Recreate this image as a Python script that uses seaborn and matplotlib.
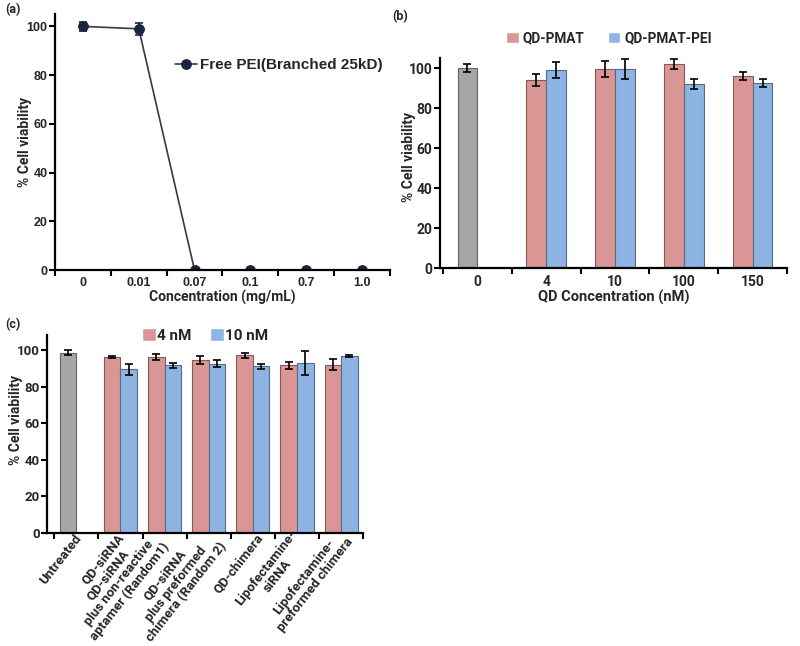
import numpy as np
import pandas as pd
import matplotlib
matplotlib.use("Agg")
import matplotlib.pyplot as plt
import matplotlib.colors as mcolors
from matplotlib.container import BarContainer
from matplotlib.transforms import ScaledTranslation
import seaborn as sns

# Panel (a): free PEI toxicity
conc_a = ["0", "0.01", "0.07", "0.1", "0.7", "1.0"]
via_a = [100, 99, 0, 0, 0, 0]
err_a = [2, 2.5, 0, 0, 0, 0]

# Panel (b): QD formulations
qd_conc = ["0", "4", "10", "100", "150"]
control_b = 100
control_b_err = 2
pmat = [94, 99.5, 102, 96]
pmat_err = [3, 4, 2.5, 2]
pmat_pei = [99, 99.5, 92, 92.5]
pmat_pei_err = [4, 5, 2.5, 2]

# Panel (c): siRNA / chimera complexes
groups_c = ["Untreated", "QD-siRNA",
            "QD-siRNA\nplus non-reactive\naptamer (Random1)",
            "QD-siRNA\nplus preformed\nchimera (Random 2)",
            "QD-chimera", "Lipofectamine-\nsiRNA",
            "Lipofectamine-\npreformed chimera"]
control_c = 98.5
control_c_err = 1.5
nm4 = [96, 96, 94.5, 97, 91.5, 92]
nm4_err = [0.5, 1.5, 2, 1.5, 2, 3]
nm10 = [89.5, 91.5, 92.5, 91, 93, 96.5]
nm10_err = [3, 1.5, 2, 1.5, 6.5, 0.5]

PINK = "#d99694"
BLUE = "#8db4e2"
GRAY = "#a6a6a6"
NARROW = ["Roboto", "DejaVu Sans"]
WIDE = ["Liberation Sans", "DejaVu Sans"]

# nudges (px) for the rotated labels in (c), to keep the stacked lines apart
label_nudge_c = [3, 1, -9, 5, 8, 3, 4]

sns.set_style("ticks")
plt.rcParams["font.family"] = NARROW
plt.rcParams["font.weight"] = "bold"
plt.rcParams["axes.labelweight"] = "bold"


def darker(c, f=0.6):
    r, g, b = mcolors.to_rgb(c)
    return (r * f, g * f, b * f)


def style_axis(ax, n, lw=1.6):
    sns.despine(ax=ax)
    for s in ["left", "bottom"]:
        ax.spines[s].set_linewidth(lw)
        ax.spines[s].set_color("black")
    ax.set_xticks(np.arange(-0.5, n, 1), minor=True)
    ax.tick_params(axis="x", which="major", length=0, pad=5)
    ax.tick_params(axis="x", which="minor", length=4, width=1.5, color="black")
    ax.tick_params(axis="y", length=4, width=1.5, color="black", pad=1.5)
    for lab in ax.get_yticklabels() + ax.get_xticklabels():
        lab.set_fontweight("bold")


def add_errors(ax, err_table, control_pos, control_err):
    # err_table[side][cat_index - 1]; side 0 = first hue, 1 = second hue
    bars = [b for c in ax.containers if isinstance(c, BarContainer) for b in c]
    for bar in bars:
        h = bar.get_height()
        if np.isnan(h):
            continue
        cx = bar.get_x() + bar.get_width() / 2
        idx = int(round(cx))
        side = 0 if cx < idx else 1
        if idx == control_pos:
            e = control_err
            bar.set_facecolor(GRAY)
        else:
            e = err_table[side][idx - 1]
        bar.set_edgecolor(darker(bar.get_facecolor()))
        bar.set_linewidth(0.8)
        ax.errorbar(cx, h, yerr=e, fmt="none", ecolor="black",
                    elinewidth=1.2, capsize=3, capthick=1.2, zorder=5)


fig = plt.figure(figsize=(8, 6.46), dpi=100)

# ---- (a)
ax_a = fig.add_axes([0.069, 0.582, 0.418, 0.396])
df_a = pd.DataFrame({"Concentration": conc_a, "Viability": via_a})
sns.lineplot(data=df_a, x="Concentration", y="Viability", sort=False,
             marker="o", color="#3a3a3a", lw=1.2, markersize=7,
             markerfacecolor="#1c2540", markeredgecolor="#1c2540",
             label="Free PEI(Branched 25kD)", ax=ax_a)
ax_a.errorbar(conc_a, via_a, yerr=err_a, fmt="none", ecolor="#1c2540",
              elinewidth=1.2, capsize=3, capthick=1.2)
ax_a.set_xlim(-0.5, 5.5)
ax_a.set_ylim(0, 105)
ax_a.set_yticks([0, 20, 40, 60, 80, 100])
ax_a.set_xlabel("Concentration (mg/mL)", fontsize=10, labelpad=1)
ax_a.set_ylabel("% Cell viability", fontsize=10)
ax_a.yaxis.set_label_coords(-0.069, 0.5)
style_axis(ax_a, 6)
ax_a.tick_params(labelsize=9)
for lab in ax_a.get_yticklabels() + ax_a.get_xticklabels():
    lab.set_fontfamily(WIDE)
ax_a.legend(loc="center right", bbox_to_anchor=(1.02, 0.80), frameon=False,
            handlelength=1.4, handletextpad=0.2,
            prop={"family": WIDE, "weight": "bold", "size": 11})

# ---- (b)
ax_b = fig.add_axes([0.55, 0.585, 0.434, 0.325])
rows = [("0", "QD-PMAT", control_b)]
for c, v1, v2 in zip(qd_conc[1:], pmat, pmat_pei):
    rows.append((c, "QD-PMAT", v1))
    rows.append((c, "QD-PMAT-PEI", v2))
df_b = pd.DataFrame(rows, columns=["Concentration", "Formulation", "Viability"])
sns.barplot(data=df_b, x="Concentration", y="Viability", hue="Formulation",
            order=qd_conc, hue_order=["QD-PMAT", "QD-PMAT-PEI"],
            palette=[PINK, BLUE], saturation=1, width=0.57,
            errorbar=None, ax=ax_b)
add_errors(ax_b, [pmat_err, pmat_pei_err], 0, control_b_err)
ax_b.set_xlim(-0.54, 4.4)
ax_b.set_ylim(0, 105)
ax_b.set_yticks([0, 20, 40, 60, 80, 100])
ax_b.set_xlabel("QD Concentration (nM)", fontsize=10.5, labelpad=1)
ax_b.set_ylabel("% Cell viability", fontsize=10)
ax_b.yaxis.set_label_coords(-0.069, 0.53)
style_axis(ax_b, 5)
ax_b.tick_params(labelsize=10)
ax_b.legend(ncol=2, loc="center", bbox_to_anchor=(0.487, 1.095),
            frameon=False, handlelength=0.9, handleheight=0.9,
            handletextpad=0.3, columnspacing=1.7,
            prop={"weight": "bold", "size": 9.8})

# ---- (c)
ax_c = fig.add_axes([0.059, 0.175, 0.395, 0.306])
rows = [(groups_c[0], "4 nM", control_c)]
for g, v1, v2 in zip(groups_c[1:], nm4, nm10):
    rows.append((g, "4 nM", v1))
    rows.append((g, "10 nM", v2))
df_c = pd.DataFrame(rows, columns=["Treatment", "Dose", "Viability"])
sns.barplot(data=df_c, x="Treatment", y="Viability", hue="Dose",
            order=groups_c, hue_order=["4 nM", "10 nM"],
            palette=[PINK, BLUE], saturation=1, width=0.75,
            errorbar=None, ax=ax_c)
add_errors(ax_c, [nm4_err, nm10_err], 0, control_c_err)
ax_c.set_xlim(-0.66, 6.5)
ax_c.set_ylim(0, 108)
ax_c.set_yticks([0, 20, 40, 60, 80, 100])
ax_c.set_xlabel("")
ax_c.set_ylabel("% Cell viability", fontsize=10)
ax_c.yaxis.set_label_coords(-0.075, 0.57)
style_axis(ax_c, 7)
ax_c.tick_params(axis="y", labelsize=9.5)
ax_c.tick_params(axis="x", pad=2)
for lab, dx in zip(ax_c.get_xticklabels(), label_nudge_c):
    lab.set_rotation(52)
    lab.set_ha("right")
    lab.set_va("center")
    lab.set_rotation_mode("anchor")
    lab.set_multialignment("center")
    lab.set_fontsize(9.5)
    lab.set_linespacing(1.05)
    lab.set_transform(lab.get_transform()
                      + ScaledTranslation(dx / 100, 0, fig.dpi_scale_trans))
ax_c.legend(ncol=2, loc="center", bbox_to_anchor=(0.5, 1.0),
            frameon=False, handlelength=0.9, handleheight=0.9,
            handletextpad=0.1, columnspacing=1.2,
            prop={"weight": "bold", "size": 11})

fig.text(0.006, 0.985, "(a)", fontsize=9, fontweight="bold", va="center")
fig.text(0.49, 0.975, "(b)", fontsize=9, fontweight="bold", va="center")
fig.text(0.006, 0.497, "(c)", fontsize=9, fontweight="bold", va="center")

fig.savefig("out.png", dpi=100)
